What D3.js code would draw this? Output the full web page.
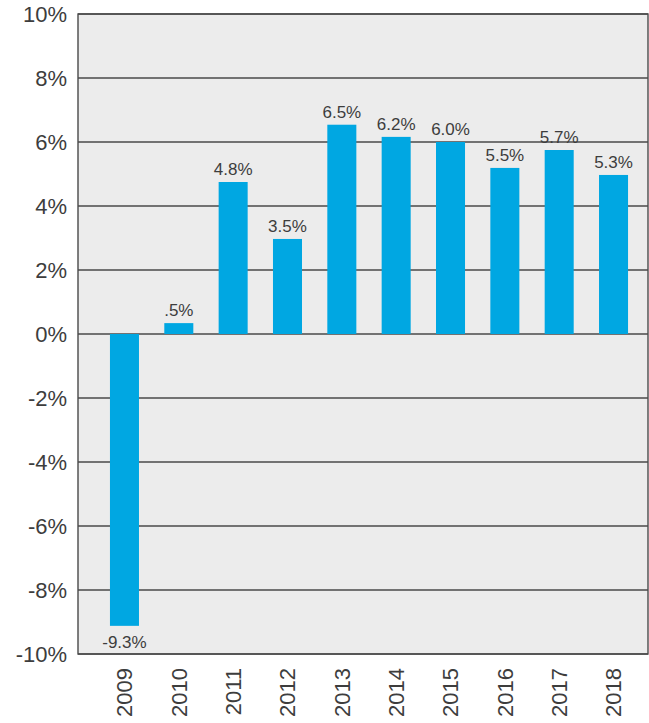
<!DOCTYPE html>
<html>
<head>
<meta charset="utf-8">
<script src="https://cdnjs.cloudflare.com/ajax/libs/d3/7.8.5/d3.min.js"></script>
<style>
  body { margin: 0; background: #fff; }
  svg text { font-family: "Liberation Sans", Arial, sans-serif; fill: #3d3d3d; }
</style>
</head>
<body>
<svg id="chart" width="649" height="723"></svg>
<script>
// data
const years = ["2009", "2010", "2011", "2012", "2013", "2014", "2015", "2016", "2017", "2018"];
const barValues = [-9.12, 0.34, 4.75, 2.97, 6.54, 6.16, 6.0, 5.19, 5.75, 4.97];
const barLabels = ["-9.3%", ".5%", "4.8%", "3.5%", "6.5%", "6.2%", "6.0%", "5.5%", "5.7%", "5.3%"];
const yTicks = [-10, -8, -6, -4, -2, 0, 2, 4, 6, 8, 10];

var svg = d3.select("#chart");

var plot = { left: 78, right: 648, top: 14, bottom: 654 };

var y = d3.scaleLinear().domain([-10, 10]).range([plot.bottom, plot.top]);

var x = d3
  .scaleBand()
  .domain(years)
  .range([97.3, 640.7])
  .paddingInner(0.466)
  .paddingOuter(0.233);

// background
svg
  .append("rect")
  .attr("x", plot.left)
  .attr("y", plot.top)
  .attr("width", plot.right - plot.left)
  .attr("height", plot.bottom - plot.top)
  .attr("fill", "#ececec");

// grid lines
svg
  .append("g")
  .attr("class", "grid")
  .selectAll("line")
  .data(yTicks)
  .enter()
  .append("line")
  .attr("x1", plot.left)
  .attr("x2", plot.right)
  .attr("y1", function (d) {
    return y(d);
  })
  .attr("y2", function (d) {
    return y(d);
  })
  .attr("stroke", "#4a4a4a")
  .attr("stroke-width", 1.4);

// bars
svg
  .append("g")
  .attr("class", "bars")
  .selectAll("rect")
  .data(barValues)
  .enter()
  .append("rect")
  .attr("x", function (d, i) {
    return x(years[i]);
  })
  .attr("width", x.bandwidth())
  .attr("y", function (d) {
    return y(Math.max(0, d));
  })
  .attr("height", function (d) {
    return Math.abs(y(d) - y(0));
  })
  .attr("fill", "#00a7e2");

// plot border
svg
  .append("rect")
  .attr("x", plot.left)
  .attr("y", plot.top)
  .attr("width", plot.right - plot.left)
  .attr("height", plot.bottom - plot.top)
  .attr("fill", "none")
  .attr("stroke", "#4a4a4a")
  .attr("stroke-width", 1.4);

// value labels
svg
  .append("g")
  .attr("class", "labels")
  .selectAll("text")
  .data(barValues)
  .enter()
  .append("text")
  .attr("x", function (d, i) {
    return x(years[i]) + x.bandwidth() / 2;
  })
  .attr("y", function (d) {
    return d < 0 ? y(d) + 22 : y(d) - 7;
  })
  .attr("text-anchor", "middle")
  .attr("font-size", "17px")
  .text(function (d, i) {
    return barLabels[i];
  });

// y axis
var yAxis = d3
  .axisLeft(y)
  .tickValues(yTicks)
  .tickSize(0)
  .tickPadding(11)
  .tickFormat(function (d) {
    return d + "%";
  });

svg
  .append("g")
  .attr("transform", "translate(" + plot.left + ",0)")
  .call(yAxis)
  .call(function (g) {
    g.select(".domain").remove();
  })
  .selectAll("text")
  .attr("font-size", "22px")
  .attr("dy", "0.36em")
  .attr("fill", "#3d3d3d");

// x axis, rotated years
var xAxis = d3.axisBottom(x).tickSize(0).tickPadding(0);

svg
  .append("g")
  .attr("transform", "translate(0," + plot.bottom + ")")
  .call(xAxis)
  .call(function (g) {
    g.select(".domain").remove();
  })
  .selectAll("text")
  .attr("font-size", "22px")
  .attr("fill", "#3d3d3d")
  .attr("transform", "rotate(-90)")
  .attr("text-anchor", "end")
  .attr("x", -14)
  .attr("y", 0)
  .attr("dy", "0.36em");
</script>
</body>
</html>
